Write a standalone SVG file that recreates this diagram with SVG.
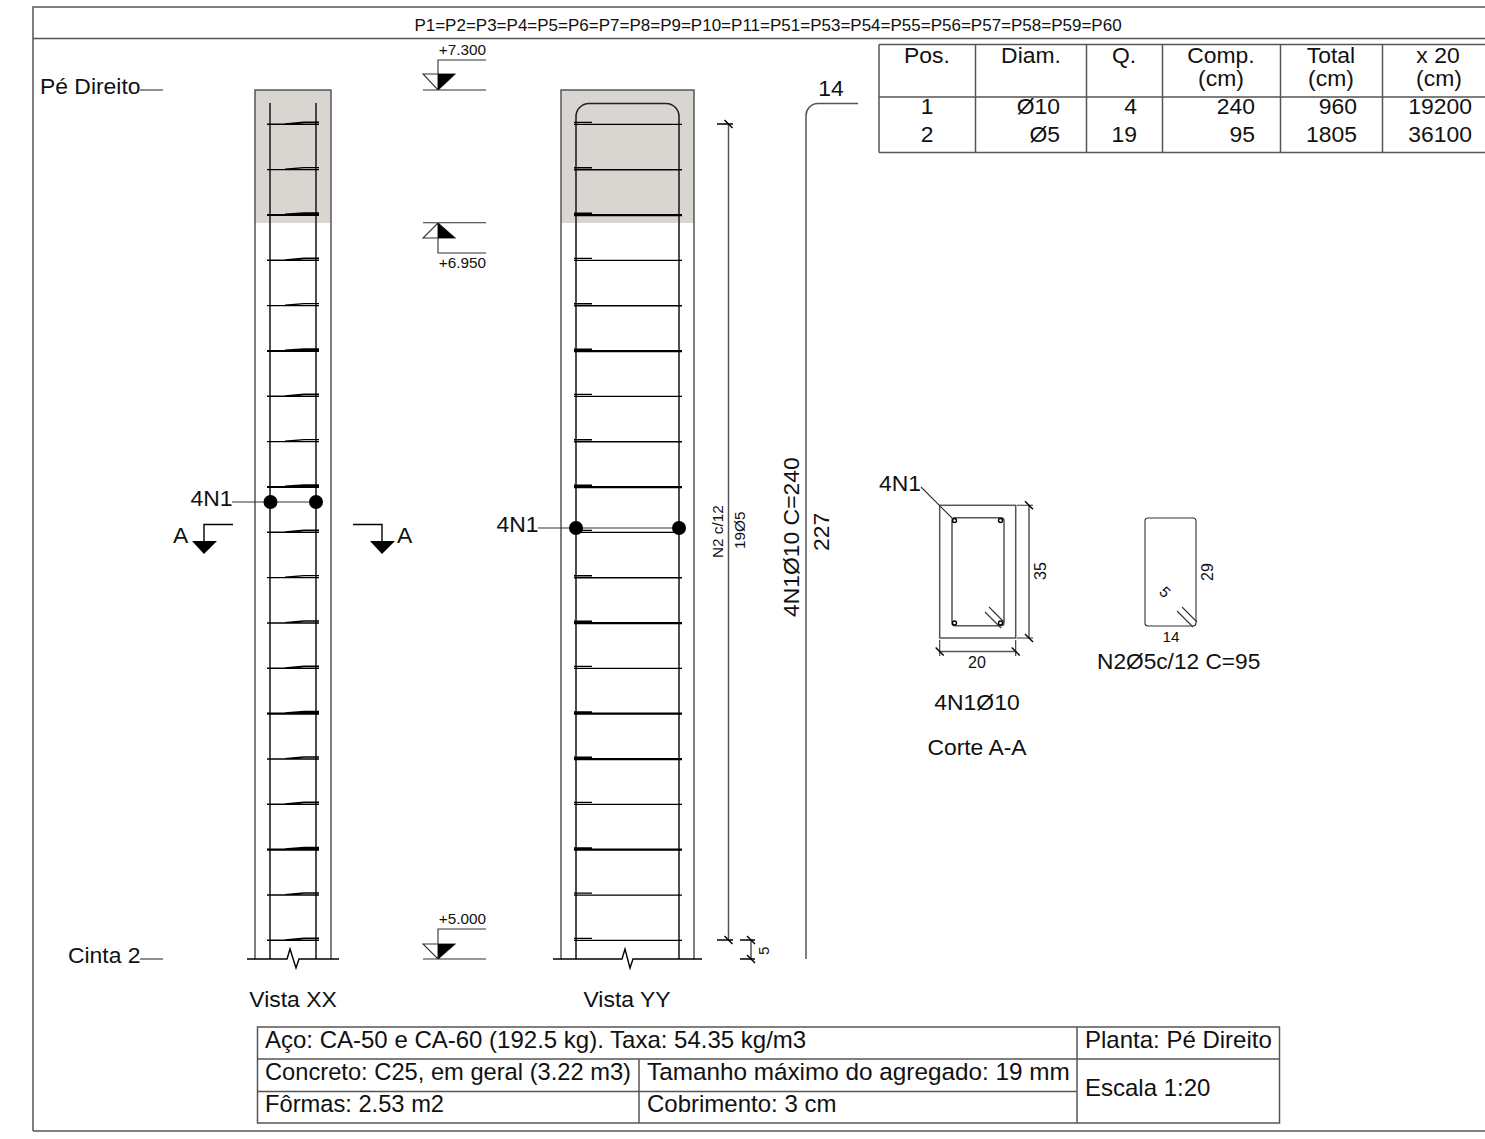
<svg xmlns="http://www.w3.org/2000/svg" width="1485" height="1139" viewBox="0 0 1485 1139">
<style>
text{font-family:"Liberation Sans",Arial,sans-serif;fill:#111}
.t22{font-size:22.9px}.t24{font-size:24px}.t14{font-size:15.3px}.t16{font-size:16px}.t17{font-size:17px}
.m{text-anchor:middle}.e{text-anchor:end}
.f{fill:none;stroke:#555;stroke-width:1.5}
.l{fill:none;stroke:#333;stroke-width:1.1}
.g{fill:none;stroke:#555;stroke-width:1.5}
.r{fill:none;stroke:#222;stroke-width:1.6}
.k{fill:none;stroke:#000;stroke-width:1.4}
.h{stroke-width:2.2}
</style>
<defs>
<g id="stX"><path class="k" d="M267 .3H319M285 0L304 -1.700H319"/></g>
<g id="stY"><path class="k" d="M574 .4H682M574 -1.600H592"/></g>
<g id="stXh"><path class="k h" d="M267 .3H319M285 0L304 -1.400H319"/></g>
<g id="stYh"><path class="k h" d="M574 .4H682M574 -1H592"/></g>
<path id="tk" class="k" d="M-4 -4L4 4"/>
</defs>
<g id="frame">
<path class="f" d="M33 1131V7H1485M33 38.500H1485M33 1131H1485"/>
<text x="768" y="31" class="t17 m">P1=P2=P3=P4=P5=P6=P7=P8=P9=P10=P11=P51=P53=P54=P55=P56=P57=P58=P59=P60</text>
</g>
<g id="labels">
<text x="40" y="94" class="t22">Pé Direito</text><path class="l" d="M140 90H163"/>
<text x="68" y="963" class="t22">Cinta 2</text><path class="l" d="M140 959H163"/>
<text x="293" y="1007" class="t22 m">Vista XX</text>
<text x="627" y="1007" class="t22 m">Vista YY</text>
</g>
<g id="vista-xx">
<rect x="255" y="90" width="76" height="133" fill="#d9d6d1"/>
<path class="g" d="M255 959V90H331V959"/>
<path class="r" d="M270 959V103M316 959V103"/>
<path class="k" d="M247 959H287L290 949L296 968L299 959H339"/>
<use href="#stX" y="124"/><use href="#stX" y="169.300"/><use href="#stXh" y="214.700"/><use href="#stX" y="260"/><use href="#stX" y="305.300"/><use href="#stXh" y="350.700"/><use href="#stX" y="396"/><use href="#stX" y="441.300"/><use href="#stXh" y="486.700"/><use href="#stX" y="532"/><use href="#stX" y="577.300"/><use href="#stX" y="622.700"/><use href="#stX" y="668"/><use href="#stXh" y="713.300"/><use href="#stX" y="758.700"/><use href="#stX" y="804"/><use href="#stXh" y="849.300"/><use href="#stX" y="894.700"/><use href="#stX" y="940"/>
<path class="l" d="M232 502H316"/>
<circle cx="270.500" cy="502" r="7" fill="#000"/><circle cx="316" cy="502" r="7" fill="#000"/>
<text x="190.500" y="506" class="t22">4N1</text>
</g>
<g id="corte-marks">
<path class="k" d="M233 524.500H204V545"/><path d="M192 541H217L204 554Z" fill="#000"/>
<text x="173" y="543" class="t22">A</text>
<path class="k" d="M353 524.500H382V545"/><path d="M370 541H395L382 554Z" fill="#000"/>
<text x="397" y="543" class="t22">A</text>
</g>
<g id="nivel-7300">
<path class="l" d="M423 90H486M486 60H438V90M423 74H455L438 90Z"/><path d="M438 74H455L438 90Z" fill="#000"/>
<text x="486" y="55" class="t14 e">+7.300</text>
</g>
<g id="nivel-6950">
<path class="l" d="M423 222.700H486M486 253H438V223M423 238H455L438 223Z"/><path d="M438 238H455L438 223Z" fill="#000"/>
<text x="486" y="268" class="t14 e">+6.950</text>
</g>
<g id="nivel-5000">
<path class="l" d="M423 959H486M486 929H438V959M423 944H455L438 959Z"/><path d="M438 944H455L438 959Z" fill="#000"/>
<text x="486" y="924" class="t14 e">+5.000</text>
</g>
<g id="vista-yy">
<rect x="561" y="90" width="133" height="133" fill="#d9d6d1"/>
<path class="g" d="M561 959V90H694V959"/>
<path class="r" d="M576 959V117A13 13 0 0 1 589 103.500H666A13 13 0 0 1 679 117V959"/>
<path class="k" d="M553 959H622L625 949L630 968L633 959H702"/>
<use href="#stY" y="124"/><use href="#stY" y="169.300"/><use href="#stYh" y="214.700"/><use href="#stY" y="260"/><use href="#stY" y="305.300"/><use href="#stYh" y="350.700"/><use href="#stY" y="396"/><use href="#stY" y="441.300"/><use href="#stYh" y="486.700"/><use href="#stY" y="532"/><use href="#stY" y="577.300"/><use href="#stYh" y="622.700"/><use href="#stY" y="668"/><use href="#stYh" y="713.300"/><use href="#stYh" y="758.700"/><use href="#stY" y="804"/><use href="#stYh" y="849.300"/><use href="#stY" y="894.700"/><use href="#stY" y="940"/>
<path class="l" d="M538 528H679"/>
<circle cx="576" cy="528" r="7" fill="#000"/><circle cx="679" cy="528" r="7" fill="#000"/>
<text x="496.500" y="532" class="t22">4N1</text>
</g>
<g id="cotas-yy">
<path class="g" d="M728.500 124V940M751 940V959"/>
<path class="k" d="M717 124H733M717 940H733M740 940H755M740 959H755"/>
<use href="#tk" x="728.500" y="124"/><use href="#tk" x="728.500" y="940"/><use href="#tk" x="751" y="940"/><use href="#tk" x="751" y="959"/>
<text transform="translate(723 558) rotate(-90)" class="t14">N2 c/12</text>
<text transform="translate(745 549) rotate(-90)" class="t14">19Ø5</text>
<text transform="translate(769 955) rotate(-90)" class="t14">5</text>
</g>
<g id="barra-n1">
<path class="g" d="M806 959V116A12 12 0 0 1 818 103.500H858"/>
<text x="831" y="96" class="t22 m">14</text>
<text transform="translate(799 617) rotate(-90)" class="t22">4N1Ø10 C=240</text>
<text transform="translate(829 551) rotate(-90)" class="t22">227</text>
</g>
<g id="tabela-aco">
<path class="g" d="M879 44.500H1485M879 97H1485M879 152.500H1485M879 44.500V152.500M975.500 44.500V152.500M1086.500 44.500V152.500M1162.500 44.500V152.500M1280.500 44.500V152.500M1382.500 44.500V152.500"/>
<text x="927" y="63" class="t22 m">Pos.</text><text x="1031" y="63" class="t22 m">Diam.</text><text x="1124" y="63" class="t22 m">Q.</text>
<text x="1221" y="63" class="t22 m">Comp.</text><text x="1221" y="86" class="t22 m">(cm)</text>
<text x="1331" y="63" class="t22 m">Total</text><text x="1331" y="86" class="t22 m">(cm)</text>
<text x="1438" y="63" class="t22 m">x 20</text><text x="1439" y="86" class="t22 m">(cm)</text>
<text x="927" y="114" class="t22 m">1</text><text x="1060" y="114" class="t22 e">Ø10</text><text x="1137" y="114" class="t22 e">4</text><text x="1255" y="114" class="t22 e">240</text><text x="1357" y="114" class="t22 e">960</text><text x="1472" y="114" class="t22 e">19200</text>
<text x="927" y="142" class="t22 m">2</text><text x="1060" y="142" class="t22 e">Ø5</text><text x="1137" y="142" class="t22 e">19</text><text x="1255" y="142" class="t22 e">95</text><text x="1357" y="142" class="t22 e">1805</text><text x="1472" y="142" class="t22 e">36100</text>
</g>
<g id="corte-aa">
<rect x="939.700" y="505.300" width="76" height="132.700" class="g"/>
<rect x="952" y="517.700" width="52" height="108" rx="3" class="g"/>
<circle cx="954.500" cy="520.500" r="2" class="k"/><circle cx="1000.500" cy="520.500" r="2" class="k"/><circle cx="954.500" cy="623" r="2" class="k"/><circle cx="1000.500" cy="623" r="2" class="k"/>
<path class="l" d="M985 612L1001 628M989 607L1004 622M921 487L954 520"/>
<text x="879" y="491" class="t22">4N1</text>
<path class="g" d="M1029 505.300V638M940 651.500H1016"/>
<path class="l" d="M1017 505.300H1033M1017 638H1033M939.700 640V656M1015.700 640V656"/>
<use href="#tk" x="1029" y="505.300"/><use href="#tk" x="1029" y="638"/><use href="#tk" x="939.700" y="651.500"/><use href="#tk" x="1015.700" y="651.500"/>
<text x="977" y="668" class="t16 m">20</text>
<text transform="translate(1046 580) rotate(-90)" class="t16">35</text>
<text x="977" y="710" class="t22 m">4N1Ø10</text>
<text x="977" y="755" class="t22 m">Corte A-A</text>
</g>
<g id="estribo-n2">
<rect x="1145" y="518" width="51" height="108" rx="3" class="l"/>
<path class="l" d="M1177 611L1193 627M1182 607L1197 622"/>
<text transform="translate(1213 581) rotate(-90)" class="t16">29</text>
<text transform="translate(1165 592) rotate(45)" class="t14 m" dy=".35em">5</text>
<text x="1171" y="642" class="t14 m">14</text>
<text x="1097" y="669" class="t22" style="font-size:22.7px">N2Ø5c/12 C=95</text>
</g>
<g id="carimbo">
<path class="g" d="M257.500 1027H1279.500V1123H257.500ZM257.500 1059H1279.500M257.500 1091.500H1077M639 1059V1123M1077 1027V1123"/>
<text x="265" y="1048" class="t24">Aço: CA-50 e CA-60 (192.5 kg). Taxa: 54.35 kg/m3</text>
<text x="1085" y="1048" class="t24">Planta: Pé Direito</text>
<text x="265" y="1080" class="t24" style="font-size:23.7px">Concreto: C25, em geral (3.22 m3)</text>
<text x="647" y="1080" class="t24" style="font-size:24.3px">Tamanho máximo do agregado: 19 mm</text>
<text x="1085" y="1096" class="t24">Escala 1:20</text>
<text x="265" y="1112" class="t24" style="font-size:23.7px">Fôrmas: 2.53 m2</text>
<text x="647" y="1112" class="t24">Cobrimento: 3 cm</text>
</g>
</svg>
